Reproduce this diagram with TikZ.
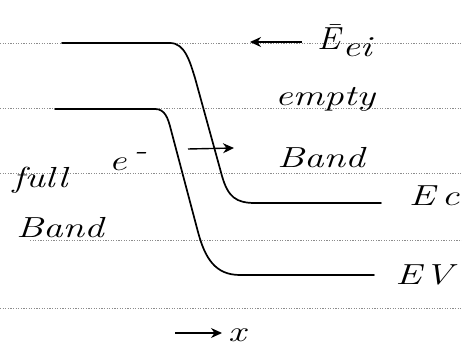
\documentclass[tikz,border=0pt]{standalone}
\usetikzlibrary{arrows.meta}
\newcommand{\hwtext}[1]{\scalebox{1.35}[1]{#1}}
\tikzset{
  band/.style={line width=1.7pt, line cap=round, line join=round},
  ruled/.style={black!45, line width=0.5pt, dash pattern=on 1.2pt off 1.4pt},
  hw/.style={font=\fontsize{29}{32}\selectfont\itshape, inner sep=0pt},
  arr/.style={line width=1.4pt, -{Stealth[length=11pt,width=10pt]}},
}
\begin{document}
\begin{tikzpicture}[x=1pt,y=-1pt]
  \fill[white] (0,0) rectangle (462,352);
  \useasboundingbox (0,0) rectangle (462,352);
  % notebook rules
  \coordinate (r1a) at (0,43);   \coordinate (r1b) at (462,43);
  \coordinate (r2a) at (0,108);  \coordinate (r2b) at (462,108);
  \coordinate (r3a) at (0,173);  \coordinate (r3b) at (462,173);
  \coordinate (r4a) at (30,240); \coordinate (r4b) at (462,240);
  \coordinate (r5a) at (0,308);  \coordinate (r5b) at (462,308);
  \draw[ruled] (r1a) -- (r1b);
  \draw[ruled] (r2a) -- (r2b);
  \draw[ruled] (r3a) -- (r3b);
  \draw[ruled] (r4a) -- (r4b);
  \draw[ruled] (r5a) -- (r5b);
  % band edges
  \coordinate (cL) at (62,43);  \coordinate (cR) at (381,203);
  \coordinate (vL) at (55,109); \coordinate (vR) at (374,275);
  \draw[band] (cL) -- (170,43) .. controls (185,43) and (190,62) .. (195,78)
     -- (222,176) .. controls (228,197) and (236,203) .. (255,203) -- (cR);
  \draw[band] (vL) -- (155,109) .. controls (165,109) and (168,118) .. (171,130)
     -- (198,232) .. controls (205,258) and (215,275) .. (240,275) -- (vR);
  % arrows
  \coordinate (a1s) at (302,42); \coordinate (a1e) at (250,42);
  \coordinate (a2s) at (188,149); \coordinate (a2e) at (234,148);
  \coordinate (a3s) at (175,333); \coordinate (a3e) at (222,333);
  \draw[arr] (a1s) -- (a1e);
  \draw[arr] (a2s) -- (a2e);
  \draw[arr, line width=1.1pt] (a3s) -- (a3e);
  % labels
  \node[hw, anchor=base west] (eei) at (317,50)
     {\scalebox{1.2}[1.1]{Ē}\hspace{2pt}\raisebox{-7pt}{\hwtext{ei}}};
  \node[hw] (empty) at (325,99) {\hwtext{empty}};
  \node[hw] (bandR) at (321,158) {\hwtext{Band}};
  \node[hw] (full) at (40,180) {\hwtext{full}};
  \node[hw] (elec) at (128,162) {\hwtext{e\hspace{5pt}\raisebox{11pt}{-}}};
  \node[hw] (bandL) at (60,228) {\hwtext{Band}};
  \node[hw] (ec) at (434,196) {\hwtext{E\hspace{5pt}c}};
  \node[hw] (ev) at (424,275) {\hwtext{E\hspace{2pt}V}};
  \node[hw] (x) at (237,335) {\hwtext{x}};
\end{tikzpicture}
\end{document}
